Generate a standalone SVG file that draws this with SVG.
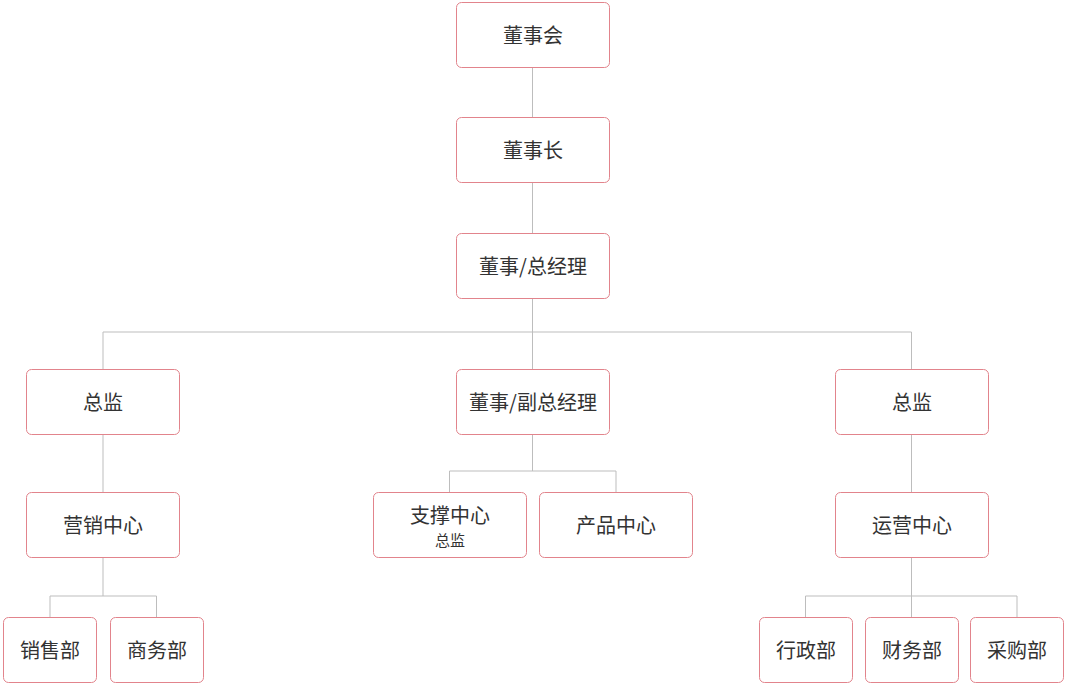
<svg xmlns="http://www.w3.org/2000/svg" width="1065" height="685" viewBox="0 0 1065 685">
<style>
.box{fill:#fff;stroke:#e2848c;stroke-width:1}
.t{font-family:"Noto Sans CJK SC","Liberation Sans",sans-serif;font-size:20px;fill:#333;text-anchor:middle;dominant-baseline:central}
.s{font-size:15px}
.ln{fill:none;stroke:#bdbdbd;stroke-width:1}
</style>
<rect width="1065" height="685" fill="#fff"/>
<g id="connectors" class="ln">
<path class="ln" d="M532.5 67V117M532.5 182V233M532.5 298V369M103 332H911.5M103 332V369M911.5 332V369"/>
<path class="ln" d="M103 434V492M911.5 434V492"/>
<path class="ln" d="M532.5 434V471M449.5 471H616M449.5 471V492M616 471V492"/>
<path class="ln" d="M103 557V596M50 596H156.5M50 596V617M156.5 596V617"/>
<path class="ln" d="M911.5 557V596M805.5 596H1017M805.5 596V617M911.5 596V617M1017 596V617"/>
</g>
<g id="n1"><rect class="box" x="456.5" y="2.5" width="153" height="65" rx="5"/><text class="t" x="533" y="34">董事会</text></g>
<g id="n2"><rect class="box" x="456.5" y="117.5" width="153" height="65" rx="5"/><text class="t" x="533" y="149">董事长</text></g>
<g id="n3"><rect class="box" x="456.5" y="233.5" width="153" height="65" rx="5"/><text class="t" x="533" y="265">董事/总经理</text></g>
<g id="n4"><rect class="box" x="26.5" y="369.5" width="153" height="65" rx="5"/><text class="t" x="103" y="401">总监</text></g>
<g id="n5"><rect class="box" x="456.5" y="369.5" width="153" height="65" rx="5"/><text class="t" x="533" y="401">董事/副总经理</text></g>
<g id="n6"><rect class="box" x="835.5" y="369.5" width="153" height="65" rx="5"/><text class="t" x="912" y="401">总监</text></g>
<g id="n7"><rect class="box" x="26.5" y="492.5" width="153" height="65" rx="5"/><text class="t" x="103" y="524">营销中心</text></g>
<g id="n8"><rect class="box" x="373.5" y="492.5" width="153" height="65" rx="5"/><text class="t" x="450" y="514">支撑中心</text><text class="t s" x="450" y="539">总监</text></g>
<g id="n9"><rect class="box" x="539.5" y="492.5" width="153" height="65" rx="5"/><text class="t" x="616" y="524">产品中心</text></g>
<g id="n10"><rect class="box" x="835.5" y="492.5" width="153" height="65" rx="5"/><text class="t" x="912" y="524">运营中心</text></g>
<g id="n11"><rect class="box" x="3.5" y="617.5" width="93" height="65" rx="5"/><text class="t" x="50" y="649">销售部</text></g>
<g id="n12"><rect class="box" x="110.5" y="617.5" width="93" height="65" rx="5"/><text class="t" x="157" y="649">商务部</text></g>
<g id="n13"><rect class="box" x="759.5" y="617.5" width="93" height="65" rx="5"/><text class="t" x="806" y="649">行政部</text></g>
<g id="n14"><rect class="box" x="865.5" y="617.5" width="93" height="65" rx="5"/><text class="t" x="912" y="649">财务部</text></g>
<g id="n15"><rect class="box" x="970.5" y="617.5" width="93" height="65" rx="5"/><text class="t" x="1017" y="649">采购部</text></g>
</svg>
